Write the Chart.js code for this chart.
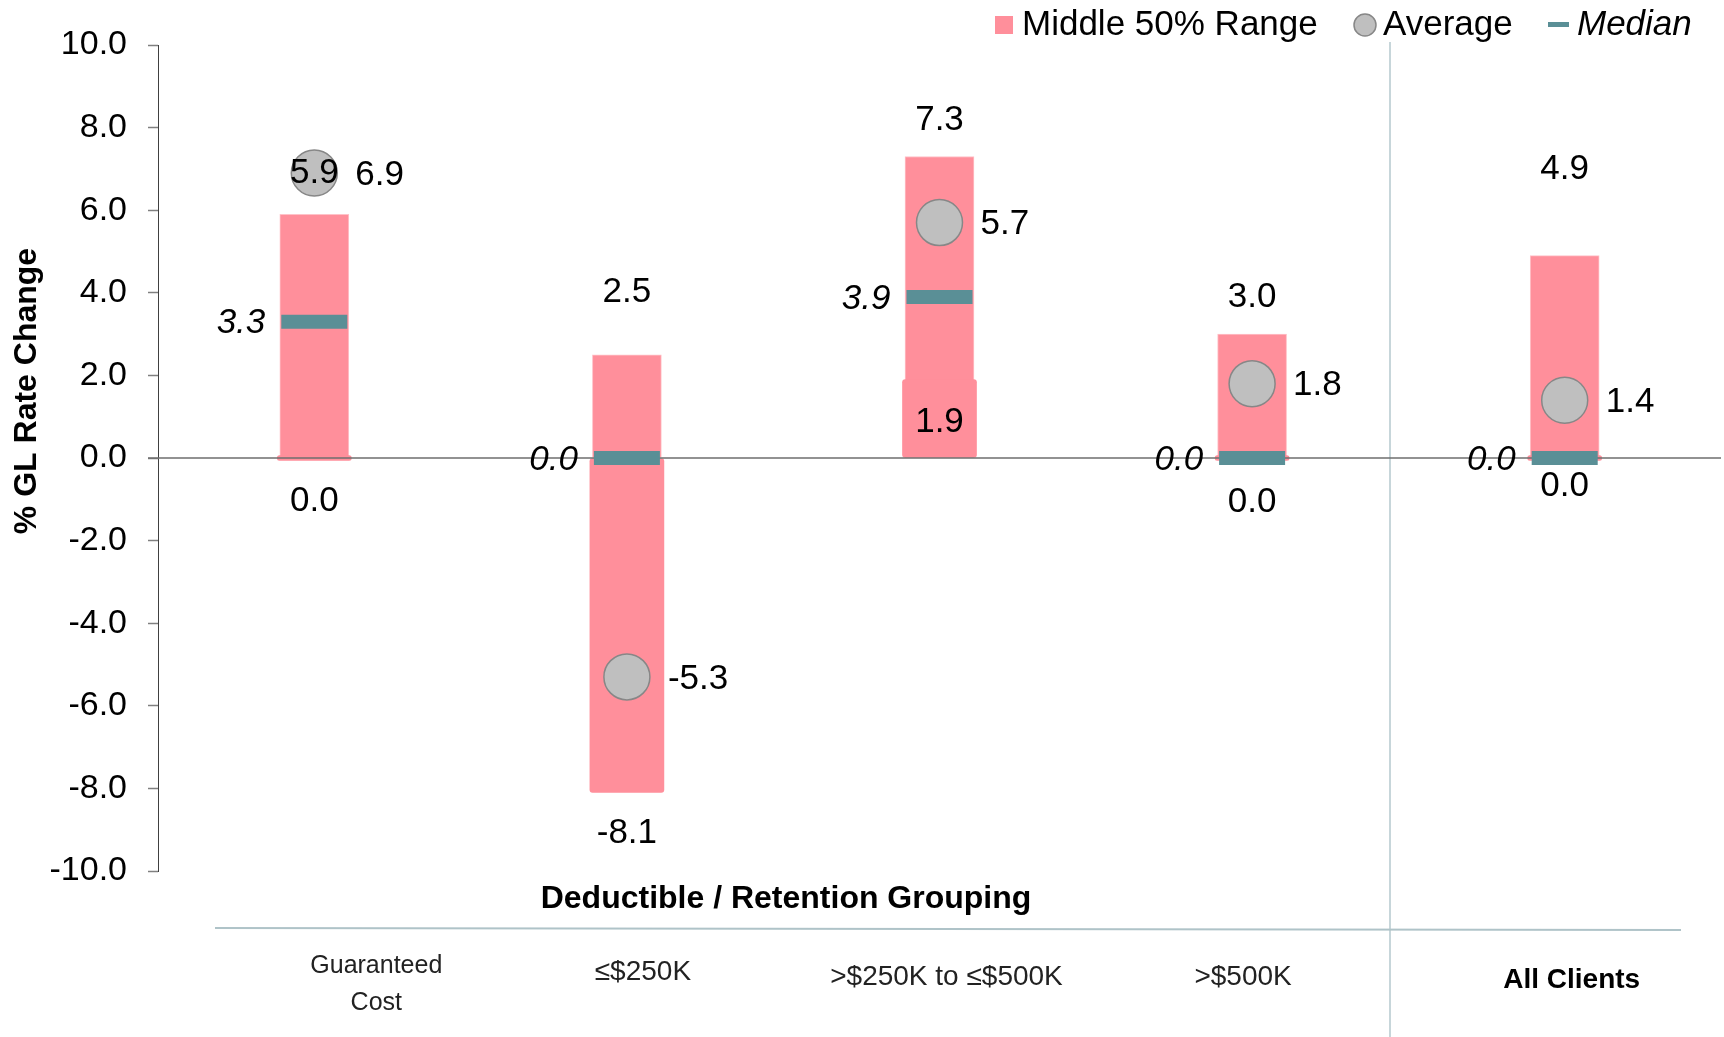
<!DOCTYPE html>
<html>
<head>
<meta charset="utf-8">
<script src="https://cdn.jsdelivr.net/npm/chart.js@4.4.0/dist/chart.umd.min.js"></script>
<style>
  body { margin: 0; background: #fff; }
  #wrap { width: 1724px; height: 1037px; }
</style>
</head>
<body>
<div id="wrap"><canvas id="chart" width="1724" height="1037"></canvas></div>
<script>
// data
const categories = [['Guaranteed', 'Cost'], '≤$250K', '>$250K to ≤$500K', '>$500K', 'All Clients'];
const q1Values = [0.0, -8.1, 1.9, 0.0, 0.0];
const q3Values = [5.9, 2.5, 7.3, 3.0, 4.9];
const averages = [6.9, -5.3, 5.7, 1.8, 1.4];
const medians = [3.3, 0.0, 3.9, 0.0, 0.0];

const FONT = "'Liberation Sans', Arial, sans-serif";
const PINK = '#FF8F9B';
const TEAL = '#5A8F96';
const GREY = '#BFBFBF';
const GREY_EDGE = '#878787';

// label placement (pixels from the value position)
const topOffsets = [-41, -62, -36, -37, -86];
const bottomOffsets = [43, 41, 43, 44, 28];
const catLabelDx = [62, 16, 7, -9, 7];
const catLabelY = [966, 972, 977, 977, 980];

function text(ctx, str, x, y, font, align, color) {
  ctx.font = font;
  ctx.fillStyle = color || '#000';
  ctx.textAlign = align || 'center';
  ctx.textBaseline = 'middle';
  ctx.fillText(str, x, y);
}

const decorations = {
  id: 'decorations',
  beforeDatasetsDraw(chart) {
    const ctx = chart.ctx;
    ctx.save();
    // separator before "All Clients"
    ctx.strokeStyle = '#B5C8CE';
    ctx.lineWidth = 1.5;
    ctx.beginPath();
    ctx.moveTo(1390, 42);
    ctx.lineTo(1390, 1037);
    ctx.stroke();
    // line above category names
    ctx.strokeStyle = '#AFC3C8';
    ctx.lineWidth = 2;
    ctx.beginPath();
    ctx.moveTo(215, 928);
    ctx.lineTo(1681, 930);
    ctx.stroke();
    ctx.restore();
  },
  afterDatasetDraw(chart, args) {
    if (args.index !== 1) return;
    const ctx = chart.ctx;
    const y0 = chart.scales.y.getPixelForValue(0);
    ctx.save();
    ctx.strokeStyle = '#6E6E6E';
    ctx.lineWidth = 1.5;
    ctx.beginPath();
    ctx.moveTo(148, y0);
    ctx.lineTo(chart.chartArea.right, y0);
    ctx.stroke();
    ctx.restore();
  },
  afterDatasetsDraw(chart) {
    const ctx = chart.ctx;
    const x = chart.scales.x, y = chart.scales.y;
    const f = `35px ${FONT}`;
    ctx.save();
    categories.forEach((c, i) => {
      const cx = x.getPixelForValue(i);
      text(ctx, q3Values[i].toFixed(1), cx, y.getPixelForValue(q3Values[i]) + topOffsets[i], f);
      text(ctx, q1Values[i].toFixed(1), cx, y.getPixelForValue(q1Values[i]) + bottomOffsets[i], f);
      text(ctx, averages[i].toFixed(1), cx + 41, y.getPixelForValue(averages[i]) + 2, f, 'left');
      text(ctx, medians[i].toFixed(1), cx - 49, y.getPixelForValue(medians[i]) + 2, `italic ${f}`, 'right');

      // category names under the rule
      const lx = cx + catLabelDx[i];
      const bold = i === categories.length - 1;
      if (Array.isArray(c)) {
        text(ctx, c[0], lx, catLabelY[i], `25px ${FONT}`, 'center', '#222');
        text(ctx, c[1], lx, catLabelY[i] + 37, `25px ${FONT}`, 'center', '#222');
      } else if (bold) {
        text(ctx, c, lx, catLabelY[i], `bold 28px ${FONT}`, 'center', '#000');
      } else {
        text(ctx, c, lx, catLabelY[i], `28px ${FONT}`, 'center', '#222');
      }
    });

    // axis titles
    text(ctx, 'Deductible / Retention Grouping', 786, 899, `bold 32px ${FONT}`);
    ctx.save();
    ctx.translate(27, 391);
    ctx.rotate(-Math.PI / 2);
    text(ctx, '% GL Rate Change', 0, 0, `bold 32px ${FONT}`);
    ctx.restore();

    // legend
    ctx.fillStyle = PINK;
    ctx.fillRect(995, 16, 18, 18);
    text(ctx, 'Middle 50% Range', 1022, 25, f, 'left');
    ctx.beginPath();
    ctx.arc(1365, 25, 11, 0, Math.PI * 2);
    ctx.fillStyle = GREY;
    ctx.fill();
    ctx.strokeStyle = GREY_EDGE;
    ctx.lineWidth = 1.5;
    ctx.stroke();
    text(ctx, 'Average', 1383, 25, f, 'left');
    ctx.fillStyle = TEAL;
    ctx.fillRect(1548, 22, 21, 5);
    text(ctx, 'Median', 1577, 25, `italic ${f}`, 'left');
    ctx.restore();
  }
};

new Chart(document.getElementById('chart'), {
  data: {
    labels: categories,
    datasets: [
      {
        type: 'bar',
        label: 'Middle 50% Range',
        data: q3Values.map(v => [0, v]),
        backgroundColor: PINK,
        borderColor: '#FFC2C8',
        borderWidth: 1,
        barThickness: 69,
        grouped: false,
        order: 3
      },
      {
        type: 'bar',
        label: 'lower',
        data: q1Values.map(v => [0, v]),
        backgroundColor: PINK,
        borderWidth: 0,
        borderRadius: 3,
        borderSkipped: false,
        barThickness: 74,
        minBarLength: 5,
        grouped: false,
        order: 2
      },
      {
        type: 'line',
        label: 'Median',
        data: medians,
        showLine: false,
        pointStyle: 'line',
        pointRadius: 33,
        pointBorderWidth: 14,
        borderColor: TEAL,
        order: 1
      },
      {
        type: 'line',
        label: 'Average',
        data: averages,
        showLine: false,
        pointStyle: 'circle',
        pointRadius: 23,
        pointBackgroundColor: GREY,
        pointBorderColor: GREY_EDGE,
        pointBorderWidth: 1.5,
        order: 0
      }
    ]
  },
  options: {
    responsive: false,
    animation: false,
    events: [],
    layout: { autoPadding: false, padding: { top: 45, right: 3, bottom: 166, left: 0 } },
    plugins: {
      legend: { display: false },
      tooltip: { enabled: false }
    },
    scales: {
      x: { display: false },
      y: {
        min: -10,
        max: 10,
        afterFit(scale) { scale.width = 158; },
        border: { color: '#404040', width: 1 },
        grid: { drawOnChartArea: false, drawTicks: true, tickLength: 10, tickColor: '#808080', tickWidth: 1.5 },
        ticks: {
          stepSize: 2,
          padding: 21,
          color: '#000',
          font: { size: 34, family: FONT },
          callback: v => v.toFixed(1)
        }
      }
    }
  },
  plugins: [decorations]
});
</script>
</body>
</html>
